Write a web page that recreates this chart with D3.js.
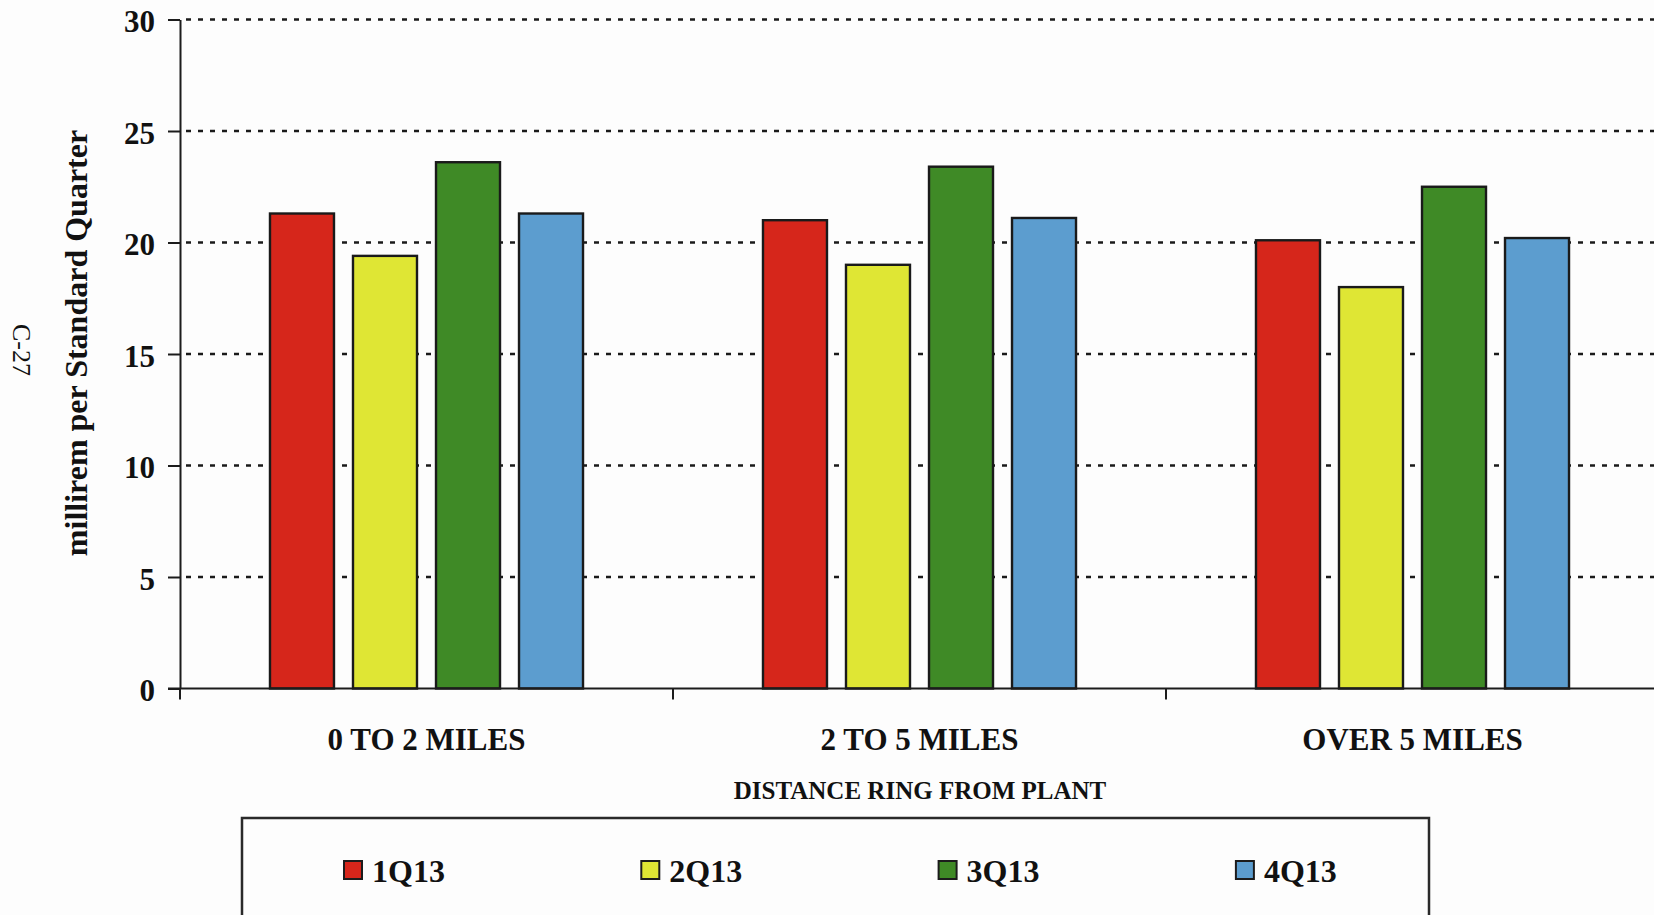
<!DOCTYPE html>
<html>
<head>
<meta charset="utf-8">
<script src="https://cdn.jsdelivr.net/npm/d3@7/dist/d3.min.js"></script>
<style>
  html, body { margin: 0; padding: 0; background: #fdfdfd; }
  svg { display: block; }
  text { font-family: "Liberation Serif", "Times New Roman", serif; fill: #111; }
</style>
</head>
<body>
<svg id="chart" width="1654" height="915"></svg>
<script>
// Quarterly dose by distance ring
const categories = ["0 TO 2 MILES", "2 TO 5 MILES", "OVER 5 MILES"];
const series = ["1Q13", "2Q13", "3Q13", "4Q13"];
const q1 = [21.3, 21.0, 20.1];
const q2 = [19.4, 19.0, 18.0];
const q3 = [23.6, 23.4, 22.5];
const q4 = [21.3, 21.1, 20.2];
const yTicks = [0, 5, 10, 15, 20, 25, 30];
const colors = ["#d6261b", "#dfe634", "#3f8a26", "#5c9dcf"];

const values = [q1, q2, q3, q4];
const rows = categories.map((c, i) => ({ cat: c, vals: series.map((s, j) => ({ key: s, v: values[j][i], c: colors[j] })) }));

const svg = d3.select("#chart");

const y = d3.scaleLinear().domain([0, 30]).range([688.5, 19.5]);
const x = d3.scaleBand().domain(categories).range([180, 1659]).padding(0);
const xs = d3.scaleBand().domain(series).range([0, x.bandwidth()])
  .paddingInner(0.229).paddingOuter(1.084);

// dotted gridlines
svg.append("g").selectAll("line")
  .data(yTicks.filter(t => t > 0))
  .join("line")
  .attr("x1", 186).attr("x2", 1654)
  .attr("y1", d => y(d)).attr("y2", d => y(d))
  .attr("stroke", "#1a1a1a").attr("stroke-width", 2.6)
  .attr("stroke-dasharray", "5,7");

// bars
const groups = svg.append("g").selectAll("g")
  .data(rows).join("g")
  .attr("transform", d => `translate(${x(d.cat)},0)`);
groups.selectAll("rect")
  .data(d => d.vals).join("rect")
  .attr("x", d => xs(d.key))
  .attr("width", xs.bandwidth())
  .attr("y", d => y(d.v))
  .attr("height", d => y(0) - y(d.v))
  .attr("fill", d => d.c)
  .attr("stroke", "#1a1a1a").attr("stroke-width", 2.4);

// y axis
const yAxis = svg.append("g")
  .attr("transform", "translate(180,0)")
  .call(d3.axisLeft(y).tickValues(yTicks).tickSize(12).tickSizeOuter(0).tickPadding(13));
yAxis.select(".domain").attr("stroke", "#1c1c1c").attr("stroke-width", 2);
yAxis.selectAll(".tick line").attr("stroke", "#1c1c1c").attr("stroke-width", 2);
yAxis.selectAll(".tick text")
  .attr("font-size", 31).attr("font-weight", "bold")
  .attr("font-family", "Liberation Serif, serif")
  .attr("fill", "#111").attr("dy", "0.4em");

// x axis
svg.append("line")
  .attr("x1", 168).attr("x2", 1654)
  .attr("y1", y(0)).attr("y2", y(0))
  .attr("stroke", "#1c1c1c").attr("stroke-width", 2);
const bounds = categories.map(c => x(c)).concat([x.range()[1]]);
svg.append("g").selectAll("line")
  .data(bounds).join("line")
  .attr("x1", d => d).attr("x2", d => d)
  .attr("y1", y(0)).attr("y2", y(0) + 11)
  .attr("stroke", "#1c1c1c").attr("stroke-width", 2);

const xAxis = svg.append("g")
  .attr("transform", `translate(0,${y(0)})`)
  .call(d3.axisBottom(x).tickSize(0).tickPadding(0));
xAxis.select(".domain").remove();
xAxis.selectAll(".tick text")
  .attr("y", 61.5).attr("dy", 0)
  .attr("font-size", 31).attr("font-weight", "bold")
  .attr("font-family", "Liberation Serif, serif").attr("fill", "#111");

// axis titles
svg.append("text")
  .attr("transform", "translate(87,343) rotate(-90)")
  .attr("text-anchor", "middle")
  .attr("font-size", 32).attr("font-weight", "bold")
  .text("millirem per Standard Quarter");

svg.append("text")
  .attr("x", 920).attr("y", 799)
  .attr("text-anchor", "middle")
  .attr("font-size", 25).attr("font-weight", "bold")
  .text("DISTANCE RING FROM PLANT");

// page number
svg.append("text")
  .attr("transform", "translate(13,350) rotate(90)")
  .attr("text-anchor", "middle")
  .attr("font-size", 26)
  .text("C-27");

// legend
svg.append("rect")
  .attr("x", 242).attr("y", 818)
  .attr("width", 1187).attr("height", 200)
  .attr("fill", "none").attr("stroke", "#2a2a2a").attr("stroke-width", 2.5);

const legend = svg.append("g").selectAll("g")
  .data(series).join("g")
  .attr("transform", (d, i) => `translate(${344 + i * 297.3},861)`);
legend.append("rect")
  .attr("width", 18).attr("height", 18)
  .attr("fill", (d, i) => colors[i])
  .attr("stroke", "#1c1c1c").attr("stroke-width", 2);
legend.append("text")
  .attr("x", 28).attr("y", 21)
  .attr("font-size", 32).attr("font-weight", "bold")
  .text(d => d);
</script>
</body>
</html>
